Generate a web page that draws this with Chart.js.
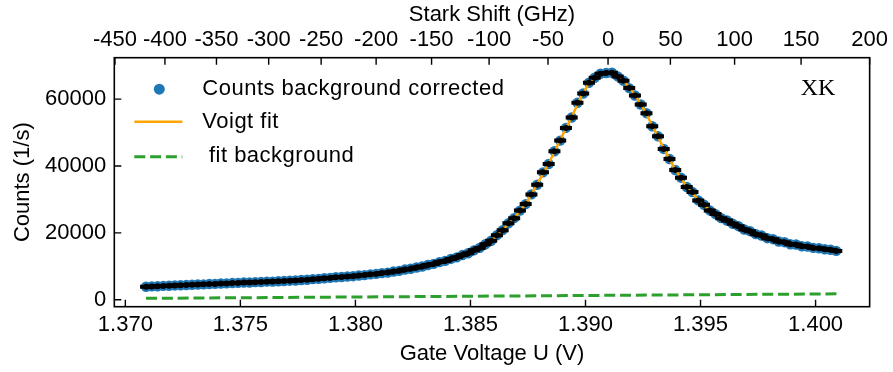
<!DOCTYPE html>
<html>
<head>
<meta charset="utf-8">
<script src="https://cdn.jsdelivr.net/npm/chart.js@4.4.1/dist/chart.umd.min.js"></script>
<style>
  html, body { margin: 0; padding: 0; background: #fff; }
  #wrap { width: 893px; height: 372px; position: relative; }
</style>
</head>
<body>
<div id="wrap"><canvas id="chart"></canvas></div>
<script>
// gate voltage sweep (V) and background corrected counts (1/s)
const gateVoltage = [
  1.37090, 1.37115, 1.37140, 1.37165, 1.37190, 1.37215, 1.37240, 1.37265, 1.37290, 1.37315,
  1.37340, 1.37365, 1.37390, 1.37415, 1.37440, 1.37465, 1.37490, 1.37515, 1.37540, 1.37565,
  1.37590, 1.37615, 1.37640, 1.37665, 1.37690, 1.37715, 1.37740, 1.37765, 1.37790, 1.37815,
  1.37840, 1.37865, 1.37890, 1.37915, 1.37940, 1.37965, 1.37990, 1.38015, 1.38040, 1.38065,
  1.38090, 1.38115, 1.38140, 1.38165, 1.38190, 1.38215, 1.38240, 1.38265, 1.38290, 1.38315,
  1.38340, 1.38365, 1.38390, 1.38415, 1.38440, 1.38465, 1.38490, 1.38515, 1.38540, 1.38565,
  1.38590, 1.38615, 1.38640, 1.38665, 1.38690, 1.38715, 1.38740, 1.38765, 1.38790, 1.38815,
  1.38840, 1.38865, 1.38890, 1.38915, 1.38940, 1.38965, 1.38990, 1.39015, 1.39040, 1.39065,
  1.39090, 1.39115, 1.39140, 1.39165, 1.39190, 1.39215, 1.39240, 1.39265, 1.39290, 1.39315,
  1.39340, 1.39365, 1.39390, 1.39415, 1.39440, 1.39465, 1.39490, 1.39515, 1.39540, 1.39565,
  1.39590, 1.39615, 1.39640, 1.39665, 1.39690, 1.39715, 1.39740, 1.39765, 1.39790, 1.39815,
  1.39840, 1.39865, 1.39890, 1.39915, 1.39940, 1.39965, 1.39990, 1.40015, 1.40040, 1.40065,
  1.40090
];
const countsCorrected = [
  3880, 3970, 4010, 4120, 4160, 4260, 4310, 4400, 4450, 4550,
  4590, 4700, 4720, 4830, 4870, 4970, 5020, 5120, 5150, 5250,
  5280, 5390, 5410, 5520, 5570, 5680, 5740, 5890, 5970, 6140,
  6240, 6420, 6520, 6720, 6800, 6950, 7030, 7220, 7360, 7580,
  7720, 7960, 8110, 8410, 8620, 9010, 9270, 9640, 9920, 10390,
  10710, 11250, 11610, 12200, 12660, 13350, 13900, 14760, 15500, 16580,
  17620, 19300, 20800, 22850, 24400, 26650, 28600, 31500, 34400, 38100,
  40600, 44400, 47600, 51400, 54500, 58900, 61700, 64900, 66400, 67600,
  67800, 67900, 66800, 65500, 63300, 61100, 58400, 55800, 51900, 48900,
  45100, 42100, 38800, 36500, 33700, 32200, 29700, 28400, 26700, 25600,
  24400, 23700, 22700, 22000, 21000, 20500, 19600, 19200, 18400, 18100,
  17400, 17200, 16600, 16500, 16000, 15900, 15500, 15400, 15100, 14950,
  14600
];

// Voigt fit curve
const fitVoltage = [
  1.37090, 1.37140, 1.37190, 1.37240, 1.37290, 1.37340, 1.37390, 1.37440, 1.37490, 1.37540,
  1.37590, 1.37640, 1.37690, 1.37740, 1.37790, 1.37840, 1.37890, 1.37940, 1.37990, 1.38040,
  1.38090, 1.38140, 1.38190, 1.38240, 1.38290, 1.38340, 1.38390, 1.38440, 1.38490, 1.38540,
  1.38590, 1.38640, 1.38690, 1.38740, 1.38790, 1.38840, 1.38890, 1.38940, 1.38990, 1.39040,
  1.39090, 1.39140, 1.39190, 1.39240, 1.39290, 1.39340, 1.39390, 1.39440, 1.39490, 1.39540,
  1.39590, 1.39640, 1.39690, 1.39740, 1.39790, 1.39840, 1.39890, 1.39940, 1.39990, 1.40040,
  1.40090
];
const voigtFit = [
  3900, 4020, 4180, 4330, 4470, 4600, 4730, 4880, 5040, 5160,
  5290, 5420, 5580, 5760, 5990, 6260, 6540, 6820, 7050, 7380,
  7740, 8140, 8650, 9300, 9950, 10750, 11650, 12700, 13950, 15550,
  17700, 20900, 24500, 28700, 34600, 40800, 47800, 54700, 61900, 66600,
  68000, 67000, 63500, 58600, 52100, 45300, 39000, 33900, 29900, 26800,
  24500, 22800, 21100, 19700, 18500, 17500, 16700, 16100, 15600, 15150,
  14600
];

// linear background of the fit
const bgVoltage = [1.3709, 1.4011];
const bgCounts = [400, 1750];

// axis ticks
const voltageTicks = [1.370, 1.375, 1.380, 1.385, 1.390, 1.395, 1.400];
const countTicks = [0, 20000, 40000, 60000];
const starkLabels = ["-450", "-400", "-350", "-300", "-250", "-200", "-150", "-100", "-50", "0", "50", "100", "150", "200"];
const starkTickVoltage = [1.36955, 1.37172, 1.37396, 1.37623, 1.37851, 1.38090, 1.38331, 1.38581, 1.38837, 1.39098, 1.39369, 1.39648, 1.39937, 1.40235];

const xMin = 1.36952, xMax = 1.40235;
const yMin = -2100, yMax = 72400;

const BLUE = "#1f77b4", ORANGE = "#ffa500", GREEN = "#2ca02c";

function toPoints(xs, ys) {
  return xs.map((x, i) => ({ x: x, y: ys[i] }));
}

Chart.defaults.font.family = "'Liberation Sans', Arial, sans-serif";
Chart.defaults.font.size = 22;
Chart.defaults.color = "#000";

// frame, inward ticks, legend and label
const framePlugin = {
  id: "frame",
  afterDraw(chart) {
    const ctx = chart.ctx;
    const ca = chart.chartArea;
    ctx.save();
    ctx.strokeStyle = "#000";
    ctx.lineWidth = 1.6;
    ctx.strokeRect(ca.left, ca.top, ca.right - ca.left, ca.bottom - ca.top);
    const tl = 7;
    ctx.lineWidth = 1.4;
    ctx.beginPath();
    chart.scales.x.ticks.forEach(t => {
      const px = chart.scales.x.getPixelForValue(t.value);
      ctx.moveTo(px, ca.bottom); ctx.lineTo(px, ca.bottom - tl);
    });
    chart.scales.x2.ticks.forEach(t => {
      const px = chart.scales.x2.getPixelForValue(t.value);
      ctx.moveTo(px, ca.top); ctx.lineTo(px, ca.top + tl);
    });
    chart.scales.y.ticks.forEach(t => {
      const py = chart.scales.y.getPixelForValue(t.value);
      ctx.moveTo(ca.left, py); ctx.lineTo(ca.left + tl, py);
    });
    ctx.stroke();

    // legend
    const lx = ca.left, ly = ca.top;
    ctx.fillStyle = BLUE;
    ctx.beginPath();
    ctx.arc(lx + 45, ly + 31.5, 5.5, 0, Math.PI * 2);
    ctx.fill();
    ctx.strokeStyle = ORANGE;
    ctx.lineWidth = 2.5;
    ctx.beginPath();
    ctx.moveTo(lx + 20, ly + 64); ctx.lineTo(lx + 68, ly + 64);
    ctx.stroke();
    ctx.strokeStyle = GREEN;
    ctx.lineWidth = 3;
    ctx.setLineDash([11, 4.8]);
    ctx.beginPath();
    ctx.moveTo(lx + 20, ly + 99); ctx.lineTo(lx + 68, ly + 99);
    ctx.stroke();
    ctx.setLineDash([]);

    ctx.fillStyle = "#000";
    ctx.font = "22px 'Liberation Sans', Arial, sans-serif";
    ctx.letterSpacing = "0.5px";
    ctx.textBaseline = "middle";
    ctx.textAlign = "left";
    ctx.fillText("Counts background corrected", lx + 88, ly + 31);
    ctx.fillText("Voigt fit", lx + 88, ly + 64);
    ctx.fillText(" fit background", lx + 88, ly + 98);
    ctx.letterSpacing = "0px";

    ctx.font = "24px 'Liberation Serif', 'Times New Roman', serif";
    ctx.fillText("XK", ca.right - 69, ly + 31);
    ctx.restore();
  }
};

const ctx = document.getElementById("chart").getContext("2d");
new Chart(ctx, {
  type: "scatter",
  data: {
    datasets: [
      {
        label: "dots",
        data: toPoints(gateVoltage, countsCorrected),
        pointStyle: "circle",
        pointRadius: 3,
        pointBackgroundColor: "#000",
        pointBorderWidth: 0
      },
      {
        label: "xerr",
        data: toPoints(gateVoltage, countsCorrected),
        pointStyle: "line",
        pointRadius: 6,
        pointBorderColor: "#000",
        pointBorderWidth: 4
      },
      {
        label: "Voigt fit",
        data: toPoints(fitVoltage, voigtFit),
        showLine: true,
        pointRadius: 0,
        borderColor: ORANGE,
        borderWidth: 2.5,
        cubicInterpolationMode: "monotone"
      },
      {
        label: "fit background",
        data: toPoints(bgVoltage, bgCounts),
        showLine: true,
        pointRadius: 0,
        borderColor: GREEN,
        borderWidth: 3,
        borderDash: [11, 4.8]
      },
      {
        label: "Counts background corrected",
        data: toPoints(gateVoltage, countsCorrected),
        pointStyle: "circle",
        pointRadius: 5.2,
        pointBackgroundColor: BLUE,
        pointBorderWidth: 0
      }
    ]
  },
  options: {
    responsive: true,
    maintainAspectRatio: false,
    animation: false,
    events: [],
    layout: { padding: { left: 0, right: 21.5, top: 0, bottom: 0 } },
    plugins: { legend: { display: false }, tooltip: { enabled: false } },
    scales: {
      x: {
        type: "linear",
        position: "bottom",
        min: xMin,
        max: xMax,
        grid: { display: false, drawTicks: false },
        border: { display: false },
        afterBuildTicks: s => { s.ticks = voltageTicks.map(v => ({ value: v })); },
        afterFit: s => { s.height = 65.3; },
        ticks: {
          autoSkip: false, maxRotation: 0, minRotation: 0, padding: 5,
          callback: v => v.toFixed(3)
        },
        title: { display: true, text: "Gate Voltage U (V)", padding: { top: 0, bottom: 5 } }
      },
      x2: {
        type: "linear",
        position: "top",
        min: xMin,
        max: xMax,
        grid: { display: false, drawTicks: false },
        border: { display: false },
        afterBuildTicks: s => { s.ticks = starkTickVoltage.map(v => ({ value: v })); },
        afterFit: s => { s.height = 57.7; },
        ticks: {
          autoSkip: false, maxRotation: 0, minRotation: 0, padding: 5,
          callback: (v, i) => starkLabels[i]
        },
        title: { display: true, text: "Stark Shift (GHz)", padding: { top: 2, bottom: 0 } }
      },
      y: {
        type: "linear",
        min: yMin,
        max: yMax,
        grid: { display: false, drawTicks: false },
        border: { display: false },
        afterBuildTicks: s => { s.ticks = countTicks.map(v => ({ value: v })); },
        afterFit: s => { s.width = 114.3; },
        ticks: { padding: 8, callback: v => String(v) },
        title: { display: true, text: "Counts (1/s)", padding: { top: 10, bottom: 0 } }
      }
    }
  },
  plugins: [framePlugin]
});
</script>
</body>
</html>
